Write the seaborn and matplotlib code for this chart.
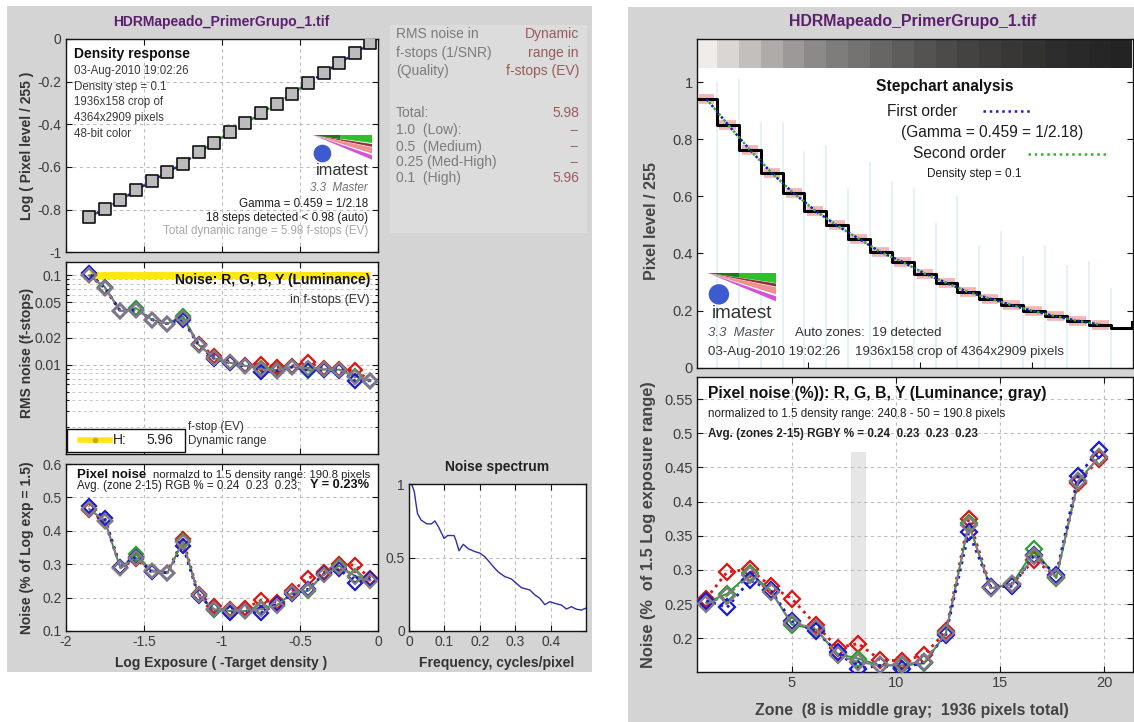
import numpy as np
import pandas as pd
import matplotlib
matplotlib.use("Agg")
import matplotlib.pyplot as plt
from matplotlib.lines import Line2D
from matplotlib.patches import Rectangle, Polygon, Circle
from matplotlib.ticker import LogLocator, NullFormatter
import seaborn as sns

plt.rcParams['font.family'] = ['Liberation Sans', 'DejaVu Sans']

W, H = 1134, 722

# ---------------- data ----------------
# 19 detected zones, ordered from the lightest patch to the darkest
zone_number = [0.9, 1.9, 3.0, 4.0, 5.0, 6.15, 7.2, 8.2, 9.25, 10.3, 11.35,
               12.4, 13.5, 14.55, 15.6, 16.65, 17.7, 18.75, 19.75]
log_exposure = [-0.05, -0.15, -0.25, -0.35, -0.45, -0.55, -0.65, -0.75, -0.85, -0.95,
                -1.05, -1.15, -1.25, -1.35, -1.45, -1.55, -1.65, -1.75, -1.85]
log_pixel_level = [-0.020, -0.067, -0.114, -0.159, -0.206, -0.256, -0.303, -0.348, -0.395,
                   -0.436, -0.486, -0.531, -0.584, -0.625, -0.666, -0.709, -0.756, -0.797, -0.834]

# pixel noise, % of 1.5 log exposure range
noise_r = [0.258, 0.297, 0.301, 0.276, 0.258, 0.220, 0.186, 0.192, 0.168, 0.167,
           0.175, 0.210, 0.375, 0.275, 0.280, 0.315, 0.290, 0.428, 0.462]
noise_g = [0.252, 0.265, 0.295, 0.270, 0.220, 0.213, 0.177, 0.170, 0.160, 0.160,
           0.163, 0.207, 0.368, 0.273, 0.280, 0.330, 0.288, 0.430, 0.465]
noise_b = [0.255, 0.245, 0.285, 0.270, 0.225, 0.210, 0.180, 0.155, 0.160, 0.155,
           0.165, 0.205, 0.355, 0.275, 0.276, 0.322, 0.293, 0.438, 0.475]
noise_y = [0.250, 0.262, 0.292, 0.268, 0.222, 0.215, 0.175, 0.165, 0.160, 0.162,
           0.165, 0.207, 0.366, 0.273, 0.279, 0.320, 0.290, 0.430, 0.465]

# RMS noise in f-stops
rms_r = [0.0066, 0.0087, 0.0090, 0.0091, 0.0106, 0.0097, 0.0093, 0.0102, 0.0100, 0.0108,
         0.0126, 0.0170, 0.033, 0.0288, 0.032, 0.041, 0.0398, 0.072, 0.100]
rms_g = [0.0066, 0.0074, 0.0088, 0.0088, 0.0086, 0.0095, 0.0087, 0.0092, 0.0097, 0.0105,
         0.0118, 0.0167, 0.035, 0.0288, 0.032, 0.043, 0.0398, 0.074, 0.100]
rms_b = [0.0066, 0.0066, 0.0086, 0.0088, 0.0087, 0.0094, 0.0085, 0.0082, 0.0096, 0.0105,
         0.0117, 0.0165, 0.032, 0.0288, 0.032, 0.041, 0.0398, 0.073, 0.105]
rms_y = [0.0066, 0.0073, 0.0088, 0.0089, 0.0091, 0.0095, 0.0086, 0.0089, 0.0097, 0.0106,
         0.0119, 0.0167, 0.033, 0.0288, 0.032, 0.041, 0.0398, 0.073, 0.100]
rms_quality_high = 0.1
dynamic_range_high = 5.96

# step chart trace across the 1936-pixel crop (20 zones, last one undetected)
zone_edge_px = [0, 90, 190, 288, 386, 482, 579, 676, 774, 872, 973,
                1071, 1166, 1264, 1361, 1459, 1558, 1656, 1756, 1856, 1950]
zone_level = [0.940, 0.851, 0.762, 0.681, 0.611, 0.550, 0.498, 0.452, 0.405, 0.370,
              0.329, 0.297, 0.265, 0.242, 0.219, 0.198, 0.180, 0.164, 0.151, 0.140]
trace_end_level = 0.16
edge_spike = [1.0, 1.01, 0.86, 0.86, 0.76, 0.78, 0.63, 0.72, 0.655, 0.63,
              0.505, 0.60, 0.43, 0.48, 0.39, 0.43, 0.36, 0.375, 0.28]
middle_gray_band_top = 0.473

# noise spectrum
spectrum_freq = [0.0075, 0.015, 0.019, 0.024, 0.034, 0.05, 0.064, 0.073, 0.083, 0.092,
                 0.099, 0.109, 0.127, 0.132, 0.141, 0.153, 0.167, 0.186, 0.2, 0.214,
                 0.223, 0.238, 0.252, 0.27, 0.289, 0.303, 0.317, 0.341, 0.355, 0.369,
                 0.383, 0.397, 0.411, 0.43, 0.444, 0.458, 0.472, 0.486, 0.498]
spectrum_amp = [1.0, 0.95, 0.88, 0.80, 0.756, 0.73, 0.73, 0.75, 0.71, 0.665,
                0.63, 0.65, 0.65, 0.62, 0.546, 0.59, 0.56, 0.54, 0.53, 0.505,
                0.48, 0.437, 0.40, 0.37, 0.353, 0.323, 0.294, 0.278, 0.244, 0.221,
                0.178, 0.198, 0.187, 0.175, 0.148, 0.164, 0.147, 0.141, 0.153]

channels = ['R', 'G', 'B', 'Y']
noise_df = pd.DataFrame({'zone': zone_number * 4, 'logexp': log_exposure * 4,
                         'channel': np.repeat(channels, len(zone_number)),
                         'noise': noise_r + noise_g + noise_b + noise_y,
                         'rms': rms_r + rms_g + rms_b + rms_y})

ch_color = {'R': '#e01212', 'G': '#2f9e2f', 'B': '#1a1ad2', 'Y': '#857a88'}
ch_style = {'R': ':', 'G': '-', 'B': ':', 'Y': '-.'}
ch_width = {'R': 2.0, 'G': 1.4, 'B': 2.0, 'Y': 1.4}

PURPLE = '#5c1f6e'
BG = '#d4d4d4'
TICK = '#3c3c3c'

fig = plt.figure(figsize=(W / 100, H / 100), dpi=100)
fig.patch.set_facecolor('white')
fig.add_artist(Rectangle((7 / W, 1 - 672 / H), (592 - 7) / W, (672 - 6) / H,
                         transform=fig.transFigure, fc=BG, ec='none', zorder=-5))
fig.add_artist(Rectangle((628 / W, 0), (W - 628) / W, (H - 7) / H,
                         transform=fig.transFigure, fc=BG, ec='none', zorder=-5))


def px_axes(l, t, r, b):
    return fig.add_axes([l / W, 1 - b / H, (r - l) / W, (b - t) / H])


def style(ax, size):
    ax.set_facecolor('white')
    for s in ax.spines.values():
        s.set_color('#151515')
        s.set_linewidth(1.0)
    ax.tick_params(which='both', direction='in', length=4, width=0.8, top=True, right=True,
                   labelsize=size, labelcolor=TICK, color='#151515', pad=3)
    ax.tick_params(which='minor', length=2)
    ax.grid(True, which='major', linestyle=(0, (3, 3)), color='#bdbdbd', linewidth=0.8)
    ax.set_axisbelow(True)
    ax.set_xlabel('')
    ax.set_ylabel('')


def channel_lines(ax, xcol, ycol, msize):
    for ch in channels:
        d = noise_df[noise_df.channel == ch]
        sns.lineplot(data=d, x=xcol, y=ycol, ax=ax, color=ch_color[ch], linestyle=ch_style[ch],
                     linewidth=ch_width[ch], marker='D', markersize=msize,
                     markerfacecolor='none', markeredgecolor=ch_color[ch],
                     markeredgewidth=1.6, sort=False, zorder=3)


# ---------- density response ----------
ax1 = px_axes(65.7, 39, 378.3, 252.3)
sns.lineplot(x=log_exposure, y=log_pixel_level, ax=ax1, color='#2a9a2a',
             linestyle=(0, (4, 2)), linewidth=1.6, sort=False)
sns.lineplot(x=log_exposure, y=log_pixel_level, ax=ax1, color='#1a1ad2',
             linestyle=(0, (1, 3)), linewidth=1.6, sort=False)
sns.scatterplot(x=log_exposure, y=log_pixel_level, ax=ax1, marker='s', s=70,
                color='#bcbcbc', edgecolor='#111111', linewidth=1.2, zorder=4)
ax1.set_xlim(-2, 0)
ax1.set_ylim(-1, 0)
ax1.set_xticks([-2, -1.5, -1, -0.5, 0])
ax1.set_xticklabels([])
ax1.set_yticks([-1, -0.8, -0.6, -0.4, -0.2, 0])
ax1.set_yticklabels(['-1', '-0.8', '-0.6', '-0.4', '-0.2', '0'])
style(ax1, 10)

# ---------- RMS noise in f-stops ----------
ax2 = px_axes(65.7, 262.3, 378.3, 454)
ax2.set_yscale('log')
ax2.hlines(rms_quality_high, min(log_exposure), max(log_exposure), color='#ffe812',
           linewidth=5, zorder=2)
channel_lines(ax2, 'logexp', 'rms', 7)
ax2.set_xlim(-2, 0)
ax2.set_ylim(0.001, 0.14)
ax2.set_xticks([-2, -1.5, -1, -0.5, 0])
ax2.set_xticklabels([])
ax2.set_yticks([0.01, 0.02, 0.05, 0.1])
ax2.set_yticklabels(['0.01', '0.02', '0.05', '0.1'])
ax2.yaxis.set_minor_locator(LogLocator(base=10, subs=np.arange(2, 10)))
ax2.yaxis.set_minor_formatter(NullFormatter())
style(ax2, 10)
ax2.grid(True, which='minor', axis='y', linestyle=(0, (3, 3)), color='#c8c8c8', linewidth=0.7)

# ---------- pixel noise vs log exposure ----------
ax3 = px_axes(65.7, 464, 378.3, 631)
channel_lines(ax3, 'logexp', 'noise', 7)
ax3.set_xlim(-2, 0)
ax3.set_ylim(0.1, 0.6)
ax3.set_xticks([-2, -1.5, -1, -0.5, 0])
ax3.set_xticklabels(['-2', '-1.5', '-1', '-0.5', '0'])
ax3.set_yticks([0.1, 0.2, 0.3, 0.4, 0.5, 0.6])
ax3.set_yticklabels(['0.1', '0.2', '0.3', '0.4', '0.5', '0.6'])
style(ax3, 10)

# ---------- noise spectrum ----------
ax4 = px_axes(409, 484.3, 586.3, 630.7)
sns.lineplot(x=spectrum_freq, y=spectrum_amp, ax=ax4, color='#2e2eb0', linewidth=1.0, sort=False)
ax4.set_xlim(0, 0.5)
ax4.set_ylim(0, 1)
ax4.set_xticks([0, 0.1, 0.2, 0.3, 0.4])
ax4.set_xticklabels(['0', '0.1', '0.2', '0.3', '0.4'])
ax4.set_yticks([0, 0.5, 1])
ax4.set_yticklabels(['0', '0.5', '1'])
style(ax4, 10)

# ---------- step chart analysis ----------
edges = np.array(zone_edge_px, dtype=float)
widths = np.diff(edges)
centers = edges[:-1] + widths / 2
ax5 = px_axes(696.7, 39.3, 1133.3, 367.7)
ax5.bar(edges[:-1], 0.1, width=widths, bottom=1.05, align='edge', linewidth=0,
        color=[(v, v * 0.985, v * 0.975) for v in zone_level], zorder=1)
ax5.vlines(edges[1:20], 0, edge_spike, color='#e0f0f3', linewidth=1.2, zorder=1)
ax5.hlines(zone_level[:19], edges[:19] + 0.12 * widths[:19], edges[1:20] - 0.12 * widths[:19],
           color='#f2a8a8', linewidth=7, alpha=0.85, zorder=2)
sns.lineplot(x=list(edges), y=zone_level + [trace_end_level], ax=ax5, color='black',
             linewidth=2.2, drawstyle='steps-post', sort=False, zorder=4)
sns.lineplot(x=list(centers[:19]), y=zone_level[:19], ax=ax5, color='#1a1ad2',
             linestyle=(0, (1, 2)), linewidth=1.8, sort=False, zorder=5)
sns.lineplot(x=list(centers[:19]), y=zone_level[:19], ax=ax5, color='#2cb42c',
             linestyle=(1.5, (1, 2)), linewidth=1.8, sort=False, zorder=5)
ax5.set_xlim(0, 1954)
ax5.set_ylim(0, 1.15)
ax5.set_xticks([500, 1000, 1500])
ax5.set_xticklabels([])
ax5.set_yticks([0, 0.2, 0.4, 0.6, 0.8, 1])
ax5.set_yticklabels(['0', '0.2', '0.4', '0.6', '0.8', '1'])
style(ax5, 10.5)
ax5.grid(False)

# ---------- pixel noise per zone ----------
ax6 = px_axes(696.7, 376.7, 1133.3, 672.3)
ax6.bar(zone_number[7], middle_gray_band_top - 0.15, bottom=0.15, width=0.7,
        color='#e6e6e6', linewidth=0, zorder=0.3)
channel_lines(ax6, 'zone', 'noise', 8)
ax6.set_xlim(0.44, 21.4)
ax6.set_ylim(0.15, 0.583)
ax6.set_xticks([5, 10, 15, 20])
ax6.set_xticklabels(['5', '10', '15', '20'])
ax6.set_yticks([0.2, 0.25, 0.3, 0.35, 0.4, 0.45, 0.5, 0.55])
ax6.set_yticklabels(['0.2', '0.25', '0.3', '0.35', '0.4', '0.45', '0.5', '0.55'])
style(ax6, 10.5)

# ---------- annotation layer in pixel coordinates ----------
ov = fig.add_axes([0, 0, 1, 1], zorder=10)
ov.set_xlim(0, W)
ov.set_ylim(H, 0)
ov.axis('off')
ov.patch.set_alpha(0)


def t(x, y, s, size, ha='left', weight='normal', color='#1e1e1e', style='normal', rot=0):
    ov.text(x, y, s, fontsize=size, ha=ha, va='center', fontweight=weight, color=color,
            fontstyle=style, rotation=rot)


def logo(xl, yt, w, size):
    xr = xl + w
    for pts, c in [([(xl, yt), (xr, yt), (xr, yt + 0.143 * w)], '#2cc02c'),
                   ([(xl, yt), (xr, yt + 0.154 * w), (xr, yt + 0.2 * w)], '#93303e'),
                   ([(xl, yt), (xr, yt + 0.211 * w), (xr, yt + 0.314 * w)], '#ee9090'),
                   ([(xl, yt), (xr, yt + 0.343 * w), (xr, yt + 0.417 * w)], '#d452d4')]:
        ov.add_patch(Polygon(pts, closed=True, fc=c, ec='none'))
    ov.add_patch(Polygon([(xl, yt), (xl + 0.45 * w, yt), (xl + 0.45 * w, yt + 0.064 * w)],
                         closed=True, fc='#1a7a1a', ec='none'))
    ov.add_patch(Circle((xl + 0.16 * w, yt + 0.314 * w), 0.15 * w, fc='#3d5ad0', ec='none'))
    t(xl + 0.05 * w, yt + 0.6 * w, 'imatest', size, color='#333333')


# left window
t(221, 22, 'HDRMapeado_PrimerGrupo_1.tif', 10, 'center', 'bold', PURPLE)
t(74, 54, 'Density response', 10, weight='bold', color='#111111')
for y, s in zip([71.3, 87.3, 102.5, 118, 134],
                ['03-Aug-2010 19:02:26', 'Density step = 0.1', '1936x158 crop of',
                 '4364x2909 pixels', '48-bit color']):
    t(74, y, s, 8.3, color='#3a3a3a')
logo(313, 135, 59, 11.8)
t(368, 188, '3.3  Master', 8.3, 'right', color='#707070', style='italic')
t(368, 204, 'Gamma = 0.459 = 1/2.18', 8.4, 'right')
t(368, 218, '18 steps detected < 0.98 (auto)', 8.4, 'right')
t(368, 231, 'Total dynamic range = 5.98 f-stops (EV)', 8.4, 'right', color='#a8a8a8')

ov.add_patch(Rectangle((390, 25), 197, 208, fc='#dcdcdc', ec='none'))
for y, s in zip([34, 53, 71], ['RMS noise in', 'f-stops (1/SNR)', '(Quality)']):
    t(396, y, s, 10, color='#7c7c7c')
for y, s in zip([34, 53, 71], ['Dynamic', 'range in', 'f-stops (EV)']):
    t(579, y, s, 10, 'right', color='#9b5a5a')
for y, s, v in zip([113, 130, 146.5, 162, 178],
                   ['Total:', '1.0  (Low):', '0.5  (Medium)', '0.25 (Med-High)', '0.1  (High)'],
                   ['5.98', '--', '--', '--', '5.96']):
    t(396, y, s, 10, color='#7c7c7c')
    t(579, y, v, 10, 'right', color='#9b5a5a')

t(370, 280, 'Noise: R, G, B, Y (Luminance)', 10, 'right', 'bold', '#111111')
t(370, 300, 'in f-stops (EV)', 9, 'right', color='#333333')

# dynamic-range key box
ov.add_patch(Rectangle((67, 428.5), 118, 23.5, fc='white', ec='#111111', lw=1.0))
ov.add_line(Line2D([80, 110], [440, 440], color='#ffe812', linewidth=4))
ov.add_line(Line2D([95], [440], color='#c8a800', marker='.', markersize=6, linestyle='none'))
t(113, 440.5, 'H:', 10, color='#222222')
t(173, 440.5, f'{dynamic_range_high:.2f}', 10, 'right', color='#222222')
t(188, 427, 'f-stop (EV)', 8.4, color='#333333')
t(188, 441, 'Dynamic range', 8.4, color='#333333')

t(77, 474.5, 'Pixel noise', 9.5, weight='bold', color='#111111')
t(370, 474.5, 'normalzd to 1.5 density range: 190.8 pixels', 8.2, 'right', color='#222222')
t(77, 486, 'Avg. (zone 2-15) RGB % = 0.24  0.23  0.23;', 8.3, color='#222222')
t(369, 485.5, 'Y = 0.23%', 9.2, 'right', weight='bold', color='#111111')

t(26.7, 146, 'Log ( Pixel level / 255 )', 10, 'center', 'bold', '#333333', rot=90)
t(27.5, 353, 'RMS noise (f-stops)', 10, 'center', 'bold', '#333333', rot=90)
t(26.7, 548, 'Noise (% of Log exp = 1.5)', 10, 'center', 'bold', '#333333', rot=90)
t(221, 663, 'Log Exposure ( -Target density )', 10, 'center', 'bold', '#333333')
t(497, 467.5, 'Noise spectrum', 10, 'center', 'bold', '#222222')
t(497, 663, 'Frequency, cycles/pixel', 10, 'center', 'bold', '#333333')

# right window
t(913, 21.7, 'HDRMapeado_PrimerGrupo_1.tif', 11.4, 'center', 'bold', PURPLE)
t(945, 86, 'Stepchart analysis', 11.2, 'center', 'bold', '#111111')
t(886.7, 111.7, 'First order', 11.2)
ov.add_line(Line2D([982.7, 1033], [111, 111], color='#1a1ad2', linewidth=1.8,
                   linestyle=(0, (1, 1.5))))
t(901, 133, '(Gamma = 0.459 = 1/2.18)', 11.2)
t(913, 154, 'Second order', 11.2)
ov.add_line(Line2D([1028, 1106.7], [154, 154], color='#2cb42c', linewidth=1.8,
                   linestyle=(0, (1, 1.5))))
t(926.7, 174, 'Density step = 0.1', 8.5)
logo(708, 273, 68, 13.6)
t(708.3, 333.3, '3.3  Master', 9.5, color='#555555', style='italic')
t(795, 333.3, 'Auto zones:  19 detected', 9.5, color='#333333')
t(708.3, 351.7, '03-Aug-2010 19:02:26', 9.5, color='#333333')
t(855, 351.7, '1936x158 crop of 4364x2909 pixels', 9.5, color='#333333')

t(708.3, 393.3, 'Pixel noise (%)): R, G, B, Y (Luminance; gray)', 11.3, weight='bold',
  color='#111111')
t(708.3, 414, 'normalized to 1.5 density range: 240.8 - 50 = 190.8 pixels', 8.4, color='#222222')
t(708.3, 434.3, 'Avg. (zones 2-15) RGBY % = 0.24  0.23  0.23  0.23', 8.4, weight='bold',
  color='#222222')

t(651.7, 221, 'Pixel level / 255', 11.5, 'center', 'bold', '#444444', rot=90)
t(648.3, 524.5, 'Noise (%  of 1.5 Log exposure range)', 11.8, 'center', 'bold', '#444444', rot=90)
t(911.7, 710, 'Zone  (8 is middle gray;  1936 pixels total)', 11.4, 'center', 'bold', '#444444')

fig.savefig('out.png', dpi=100)
